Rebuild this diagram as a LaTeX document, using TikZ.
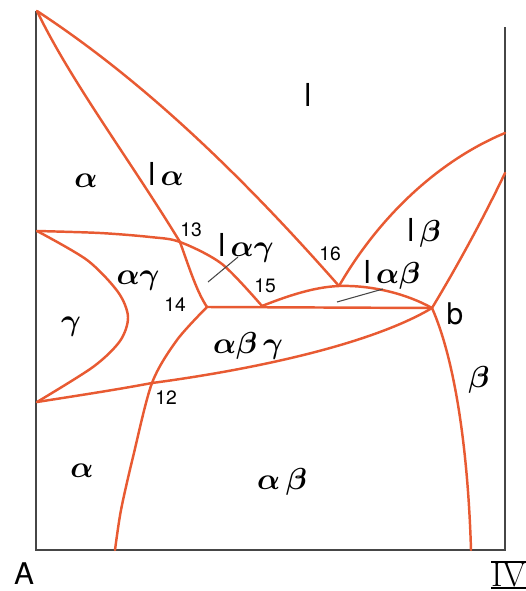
\documentclass[tikz,border=0pt]{standalone}
\usepackage{fontspec}
\setsansfont{TeX Gyre Heros}
\usepackage{tikz}
\usetikzlibrary{positioning}

\definecolor{phaseline}{RGB}{232,90,50}
\definecolor{framegray}{RGB}{70,70,70}
\newcommand{\liq}{\textsf{l}}
\newcommand{\romanfour}{\vbox{\hrule height 1.2pt\kern-0.3pt\hbox{IV}\kern-0.3pt\hrule height 1.2pt}}

\begin{document}
\begin{tikzpicture}[
  x=0.02cm, y=-0.02cm,
  phase/.style={phaseline, line width=1.4pt, line cap=round, line join=round},
  border/.style={framegray, line width=1.1pt},
  tie/.style={framegray, line width=0.6pt},
  region/.style={font=\fontsize{18}{20}\selectfont\boldmath, inner sep=0pt},
  point/.style={font=\sffamily\fontsize{11}{13}\selectfont, inner sep=0pt},
  corner/.style={font=\sffamily\fontsize{17}{19}\selectfont, inner sep=0pt},
]
  \useasboundingbox (0,0) rectangle (525,591);

  \coordinate (tl) at (36,11);
  \coordinate (bl) at (36,550);
  \coordinate (br) at (505,550);
  \coordinate (tr) at (505,27);
  \draw[border] (tl) -- (bl) -- (br) -- (tr);

  \coordinate (apex) at (37,11);
  \coordinate (gl) at (37,231);
  \coordinate (gb) at (37,402);
  \coordinate (p12) at (152,383);
  \coordinate (p13) at (180,242);
  \coordinate (p14) at (207,307);
  \coordinate (p15) at (262,306);
  \coordinate (p16) at (339,286);
  \coordinate (pb) at (432,308);
  \coordinate (ra) at (505,133);
  \coordinate (rb) at (505,173);
  \coordinate (ba) at (115,550);
  \coordinate (bb) at (471,550);

  % liquidus and solidus
  \draw[phase] (apex) .. controls (150,85) and (250,185) .. (p16);
  \draw[phase] (apex) .. controls (70,80) and (130,160) .. (p13);
  \draw[phase] (p16) .. controls (380,215) and (440,160) .. (ra);
  \draw[phase] (pb) .. controls (458,265) and (485,215) .. (rb);

  % three-phase fields
  \draw[phase] plot[smooth] coordinates {(gl) (100,233) (150,237) (p13) (222,264) (p15)};
  \draw[phase] (p13) .. controls (190,270) and (197,292) .. (p14);
  \draw[phase] (p14) -- (pb);
  \draw[phase] (p15) .. controls (290,295) and (315,287) .. (p16)
    .. controls (370,285) and (405,293) .. (pb);
  \draw[phase] (pb) .. controls (370,345) and (250,370) .. (p12)
    .. controls (115,390) and (75,396) .. (gb);

  % solvus lines
  \draw[phase] plot[smooth] coordinates {(p14) (177,340) (p12) (133,457) (121,510) (ba)};
  \draw[phase] plot[smooth] coordinates {(gl) (87,260) (118,292) (128,317) (120,341) (93,367) (gb)};
  \draw[phase] (pb) .. controls (455,360) and (468,450) .. (bb);

  \draw[tie] (208,282) -- (238,257);
  \draw[tie] (337,302) -- (383,289);

  \node[region] (l) at (308,95) {\liq};
  \node[region] (a1) at (86,181) {$\alpha$};
  \node[region] (la) at (166,174) {\liq\,$\alpha$};
  \node[region] (lag) at (246,248) {\liq\,$\alpha\gamma$};
  \node[region] (ag) at (138,281) {$\alpha\gamma$};
  \node[region] (g) at (71,327) {$\gamma$};
  \node[region] (lb) at (424,233) {\liq\,$\beta$};
  \node[region] (lab) at (392,275) {\liq\,$\alpha\beta$};
  \node[region] (abg) at (248,346) {$\alpha\beta\,\gamma$};
  \node[region] (a2) at (82,471) {$\alpha$};
  \node[region] (ab) at (282,482) {$\alpha\,\beta$};
  \node[region] (b1) at (479,380) {$\beta$};

  \node[point] (n12) at (166,398) {12};
  \node[point] (n13) at (191,230) {13};
  \node[point] (n14) at (175,305) {14};
  \node[point] (n15) at (265,286) {15};
  \node[point] (n16) at (330,254) {16};
  \node[corner] (nb) at (455,314) {b};

  \node[corner] (A) at (24,574) {A};
  \node[font=\rmfamily\fontsize{20}{22}\selectfont, inner sep=0pt] (IV) at (509,575) {\romanfour};
\end{tikzpicture}
\end{document}
